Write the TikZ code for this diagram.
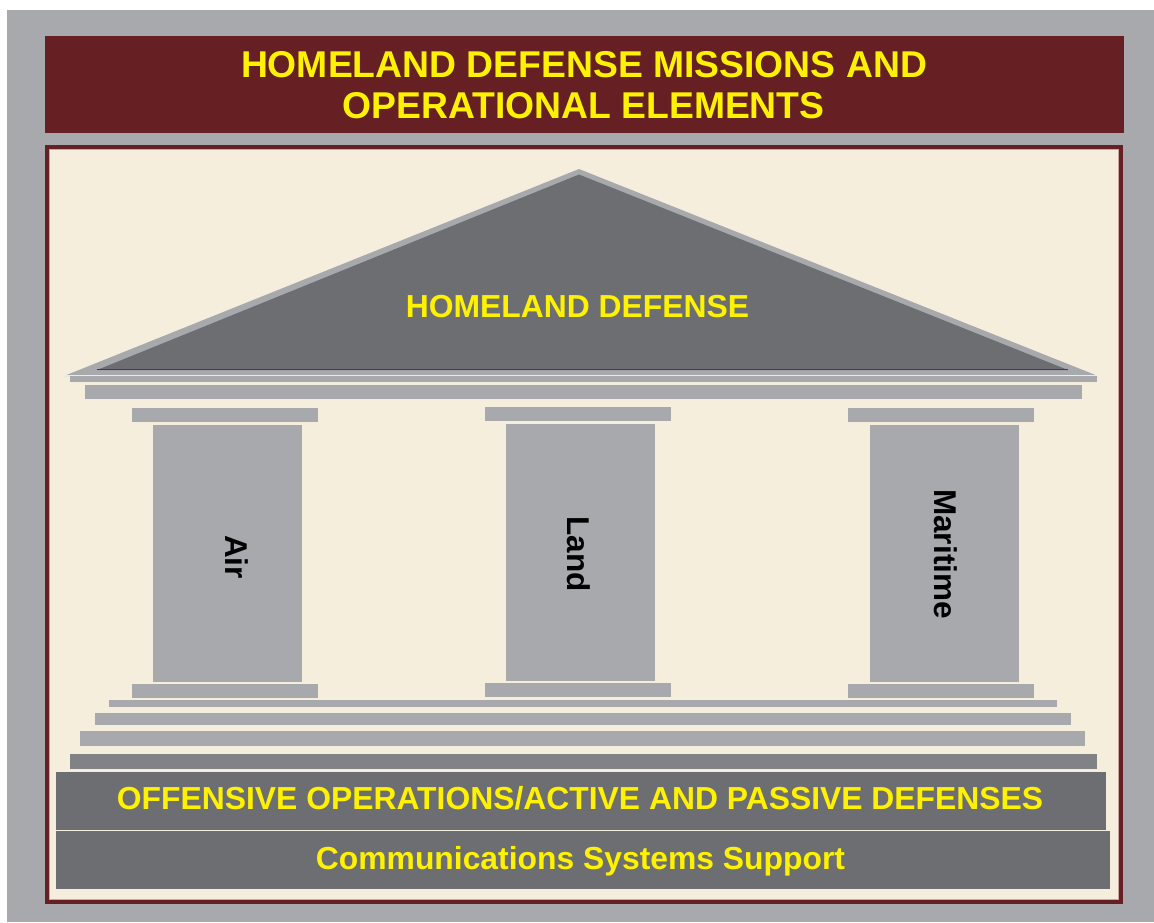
\documentclass[tikz,border=0pt]{standalone}
\usepackage{fontspec}
\setmainfont{Liberation Sans}
\definecolor{outergrey}{HTML}{A7A9AC}
\definecolor{darkred}{HTML}{662024}
\definecolor{cream}{HTML}{F5EEDD}
\definecolor{darkgrey}{HTML}{6D6E71}
\definecolor{midgrey}{HTML}{808285}
\definecolor{lightgrey}{HTML}{A7A9AC}
\definecolor{hlyellow}{HTML}{FFF200}
\definecolor{pinkline}{HTML}{C9A9A2}
\tikzset{
  part/.style={fill=lightgrey, draw=none},
  ytext/.style={text=hlyellow, font=\bfseries\fontsize{31.85}{36}\selectfont, inner sep=0pt, anchor=base},
  coltext/.style={text=black, font=\bfseries\fontsize{31.5}{36}\selectfont, inner sep=0pt, rotate=-90, anchor=base},
}
\begin{document}
\begin{tikzpicture}[x=1pt,y=-1pt]
\useasboundingbox (0,0) rectangle (1154,922);
\fill[white] (0,0) rectangle (1154,922);
\fill[outergrey] (7,10) rectangle (1154,922);
% title bar
\fill[darkred] (45,36) rectangle (1124,133);
\node[text=hlyellow, font=\bfseries\fontsize{37.3}{41}\selectfont, inner sep=0pt, anchor=base] (t1) at (584,77) {HOMELAND DEFENSE MISSIONS AND};
\node[text=hlyellow, font=\bfseries\fontsize{37.3}{41}\selectfont, inner sep=0pt, anchor=base] (t2) at (583.5,118) {OPERATIONAL ELEMENTS};
% frame
\fill[darkred] (45,145) rectangle (1123,904);
\filldraw[fill=cream, draw=pinkline, line width=1pt] (49.5,149.5) rectangle (1118.5,899.5);
% roof
\fill[lightgrey] (64,376) -- (579,169) -- (1098,376) -- cycle;
\fill[darkgrey] (97,370) -- (579,174.5) -- (1068,370) -- cycle;
\draw[black!75, line width=1.3pt] (97,369.5) -- (1068,369.5);
\draw[white!75!lightgrey, line width=0.8pt] (64,375) -- (1098,375);
\fill[part] (70,375.5) rectangle (1097,382);
\node[ytext] (hd) at (577.5,317) {HOMELAND DEFENSE};
% architrave
\fill[part] (85,385) rectangle (1082,399);
% columns
\fill[part] (132,408) rectangle (318,422);
\fill[part] (153,425) rectangle (302,682);
\fill[part] (132,684) rectangle (318,698);
\fill[part] (485,407) rectangle (671,421);
\fill[part] (506,424) rectangle (655,681);
\fill[part] (485,683) rectangle (671,697);
\fill[part] (848,408) rectangle (1034,422);
\fill[part] (870,425) rectangle (1019,682);
\fill[part] (848,684) rectangle (1034,698);
\node[coltext] (air) at (225,557) {Air};
\node[coltext] (land) at (567,554) {Land};
\node[coltext] (mar) at (934,554) {Maritime};
% steps
\fill[part] (109,700) rectangle (1057,707);
\fill[part] (95,713) rectangle (1071,725);
\fill[part] (80,731) rectangle (1085,746);
\fill[midgrey] (70,754) rectangle (1097,769);
% bottom bars
\fill[darkgrey] (56,772) rectangle (1106,830);
\fill[darkgrey] (56,831) rectangle (1110,889);
\node[ytext] (off) at (580,809) {OFFENSIVE OPERATIONS/ACTIVE AND PASSIVE DEFENSES};
\node[ytext] (com) at (580.5,869) {Communications Systems Support};
\end{tikzpicture}
\end{document}
